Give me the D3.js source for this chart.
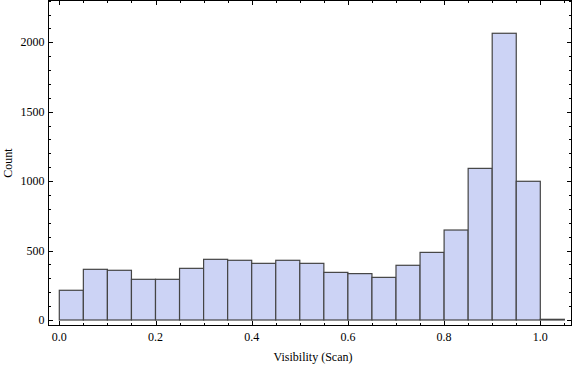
<!DOCTYPE html>
<html>
<head>
<meta charset="utf-8">
<script src="https://cdn.jsdelivr.net/npm/d3@7"></script>
<style>
  body { margin: 0; background: #fff; }
  text { font-family: "Liberation Serif", "DejaVu Serif", serif; font-size: 12px; fill: #000; }
</style>
</head>
<body>
<div id="chart"></div>
<script>
// histogram bins (width 0.05) and counts
var binStarts = [0.00, 0.05, 0.10, 0.15, 0.20, 0.25, 0.30, 0.35, 0.40, 0.45,
                 0.50, 0.55, 0.60, 0.65, 0.70, 0.75, 0.80, 0.85, 0.90, 0.95, 1.00]
var counts = [214, 365, 358, 293, 293, 372, 437, 430, 408, 430,
              408, 343, 334, 307, 394, 487, 648, 1092, 2065, 999, 5]
var binWidth = 0.05

var xMajor = [0, 0.2, 0.4, 0.6, 0.8, 1.0]
var xLabels = ["0.0", "0.2", "0.4", "0.6", "0.8", "1.0"]
var yMajor = [0, 500, 1000, 1500, 2000]
var yLabels = ["0", "500", "1000", "1500", "2000"]

var W = 576, H = 366
var frame = {left: 48.5, right: 571.5, top: 0.5, bottom: 325.5}

var svg = d3.select("#chart").append("svg")
  .attr("width", W).attr("height", H)

var x = d3.scaleLinear().domain([0, 1]).range([59.3, 540.3])
var y = d3.scaleLinear().domain([0, 2000]).range([320, 42.3])

// bars
svg.append("g")
  .selectAll("rect")
  .data(counts)
  .enter()
  .append("rect")
    .attr("x", function(d, i) { return x(binStarts[i]) })
    .attr("width", function(d, i) { return x(binStarts[i] + binWidth) - x(binStarts[i]) })
    .attr("y", function(d) { return y(d) })
    .attr("height", function(d) { return y(0) - y(d) })
    .style("fill", "#ccd3f5")
    .style("stroke", "#444")
    .style("stroke-width", 1.2)

// frame
svg.append("rect")
  .attr("x", frame.left).attr("y", frame.top)
  .attr("width", frame.right - frame.left)
  .attr("height", frame.bottom - frame.top)
  .style("fill", "none").style("stroke", "#000").style("stroke-width", 1)

// ticks (inward, on all four sides)
var xMinor = d3.range(0, 1.0501, 0.05).filter(function(v) { return Math.abs(v / 0.2 - Math.round(v / 0.2)) > 1e-6 })
var yMinor = d3.range(0, 2301, 100).filter(function(v) { return v % 500 != 0 })
var ticks = svg.append("g").style("stroke", "#000").style("stroke-width", 1)

function xTicks(vals, len) {
  vals.forEach(function(v) {
    var px = Math.round(x(v)) + 0.5
    ticks.append("line").attr("x1", px).attr("x2", px).attr("y1", frame.bottom).attr("y2", frame.bottom - len)
    ticks.append("line").attr("x1", px).attr("x2", px).attr("y1", frame.top).attr("y2", frame.top + len)
  })
}
function yTicks(vals, len) {
  vals.forEach(function(v) {
    var py = Math.round(y(v)) + 0.5
    ticks.append("line").attr("y1", py).attr("y2", py).attr("x1", frame.left).attr("x2", frame.left + len)
    ticks.append("line").attr("y1", py).attr("y2", py).attr("x1", frame.right).attr("x2", frame.right - len)
  })
}
xTicks(xMajor, 4.5)
xTicks(xMinor, 2.5)
yTicks(yMajor, 4.5)
yTicks(yMinor, 2.5)

// tick labels
svg.append("g").selectAll("text")
  .data(xMajor).enter().append("text")
    .attr("x", function(d) { return x(d) })
    .attr("y", 341)
    .attr("text-anchor", "middle")
    .text(function(d, i) { return xLabels[i] })

svg.append("g").selectAll("text")
  .data(yMajor).enter().append("text")
    .attr("x", 44.5)
    .attr("y", function(d) { return y(d) + 4 })
    .attr("text-anchor", "end")
    .text(function(d, i) { return yLabels[i] })

// axis titles
svg.append("text")
  .attr("x", 313).attr("y", 361)
  .attr("text-anchor", "middle")
  .text("Visibility (Scan)")

svg.append("text")
  .attr("transform", "translate(12,163) rotate(-90)")
  .attr("text-anchor", "middle")
  .text("Count")
</script>
</body>
</html>
